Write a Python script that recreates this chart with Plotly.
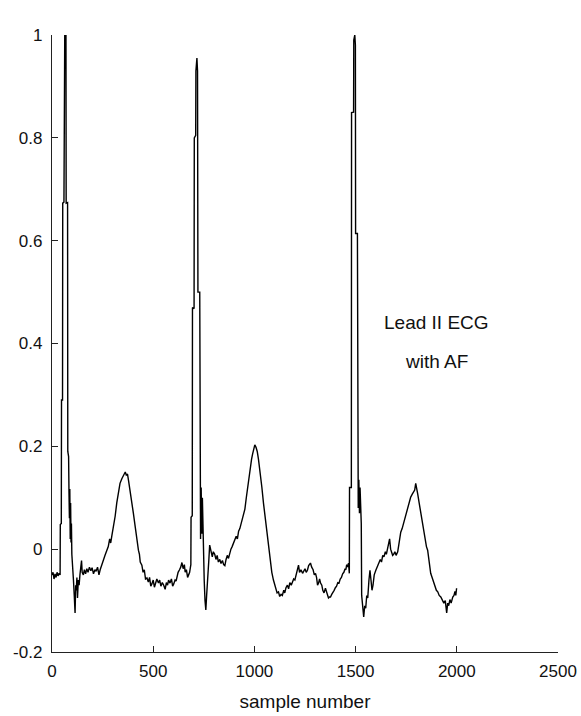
import plotly.graph_objects as go

# ---- data (sample number, amplitude) ----
sample_x = [
    0, 5, 10, 15, 20, 25, 30, 35, 40, 41, 46, 47, 52, 53, 59, 60, 63, 66, 69, 70, 77, 78, 82, 84, 86, 88, 90, 92, 94, 96, 98,
    102, 106, 110, 114, 117, 120, 123, 126, 130, 134, 138, 142, 146, 149, 155, 160, 166, 172, 178, 185, 192, 198, 205, 212,
    218, 225, 232, 238,
    245, 255, 262, 271, 278, 285, 290, 296, 304, 312, 320, 328, 336, 345, 352, 358, 362, 367, 373, 378, 386, 394, 402, 411,
    418, 423, 427, 432, 436, 444, 450, 456, 462, 469, 476, 482, 488, 493, 500, 506, 512, 518, 526, 532, 538, 545, 552, 559,
    565, 571, 576, 583, 590, 596, 601, 608, 613, 617, 623, 630, 636, 642, 648, 654, 658, 664, 670, 675, 680, 684,
    686, 687, 693, 694, 702, 703, 710, 711, 716, 719, 721, 730, 731, 734, 737, 740, 743, 746, 748, 752, 756, 760, 764, 768,
    771, 775, 779, 783, 787, 792, 797, 804, 810, 816, 822, 829, 835, 842, 848, 854, 860, 866, 872, 878, 884, 890, 896, 903,
    910, 916, 922, 928, 935, 941, 947, 953, 960, 965, 969, 975, 980, 986, 991, 997, 1002, 1008, 1014, 1020, 1025, 1030,
    1037, 1045, 1052, 1058, 1064, 1071, 1079, 1086, 1094, 1100, 1106, 1112, 1119, 1125, 1132, 1138, 1145, 1150, 1156, 1163,
    1169, 1175, 1182, 1188, 1194, 1200, 1206, 1213, 1218, 1223, 1230, 1238, 1245, 1250, 1256, 1262, 1268, 1273, 1277, 1283,
    1290, 1296, 1302, 1307, 1312, 1317, 1322, 1327, 1333, 1338, 1344, 1351, 1357, 1362, 1366, 1371, 1376, 1382, 1388, 1394,
    1400, 1406, 1412, 1418, 1424, 1430, 1436, 1442, 1448, 1452, 1456, 1460, 1465, 1469,
    1470, 1479, 1480, 1490, 1491, 1496, 1499, 1500, 1509, 1510, 1513, 1516, 1519, 1522, 1525, 1528, 1530, 1535, 1540, 1545,
    1550, 1555, 1560, 1566, 1571, 1576, 1581, 1586, 1592, 1600, 1607, 1615, 1622, 1628, 1634, 1640, 1647, 1652, 1657, 1663,
    1668, 1673, 1678, 1683, 1688, 1694, 1700, 1708, 1714, 1718, 1723, 1730, 1738, 1745, 1751, 1757, 1764, 1772, 1780, 1787,
    1792, 1797, 1802, 1807, 1814, 1822, 1830, 1837, 1843, 1850, 1856, 1862, 1867, 1871, 1878, 1886, 1892, 1899, 1906, 1913,
    1921, 1928, 1936, 1943, 1950, 1955, 1960, 1966, 1972, 1980, 1986, 1991, 1995, 1999,
]
ecg_y = [
    -0.05, -0.045, -0.058, -0.048, -0.055, -0.045, -0.052, -0.047, -0.05, 0.048, 0.05, 0.29, 0.29, 0.673, 0.675, 0.98, 1.0,
    0.99, 1.0, 0.673, 0.674, 0.19, 0.18, 0.11, 0.06, 0.117, 0.02, 0.09, 0.013, 0.05, -0.01,
    -0.03, -0.06, -0.09, -0.124, -0.07, -0.08, -0.055, -0.095, -0.06, -0.07, -0.05, -0.04, -0.022, -0.045, -0.05, -0.04,
    -0.048, -0.038, -0.045, -0.035, -0.042, -0.036, -0.048, -0.04, -0.043, -0.035, -0.05, -0.04,
    -0.03, -0.02, -0.012, 0.0, 0.005, 0.02, 0.012, 0.027, 0.045, 0.064, 0.09, 0.114, 0.128, 0.137, 0.143, 0.146, 0.15,
    0.144, 0.146, 0.134, 0.115, 0.095, 0.07, 0.044, 0.02, 0.01, -0.002, -0.01, -0.025, -0.031, -0.045, -0.04, -0.058,
    -0.056, -0.064, -0.055, -0.072, -0.068, -0.06, -0.074, -0.065, -0.058, -0.066, -0.06, -0.072, -0.065, -0.07, -0.078,
    -0.065, -0.07, -0.06, -0.066, -0.058, -0.072, -0.068, -0.06, -0.062, -0.052, -0.045, -0.04, -0.035, -0.026, -0.038,
    -0.03, -0.045, -0.04, -0.055, -0.05, -0.045, -0.035,
    -0.03, 0.062, 0.065, 0.47, 0.468, 0.80, 0.805, 0.93, 0.955, 0.93, 0.5, 0.5, 0.13, 0.02, 0.12, 0.03, 0.1, 0.02, 0.0,
    -0.06, -0.1, -0.118, -0.09, -0.07, -0.053, -0.02, 0.008, 0.0, -0.002, -0.015, -0.005, -0.01, -0.02, -0.012, -0.025,
    -0.02, -0.028, -0.022, -0.03, -0.032, -0.02, -0.012, -0.018, -0.008, 0.0, 0.005, 0.01, 0.017, 0.025, 0.02, 0.035, 0.04,
    0.05, 0.06, 0.07, 0.078, 0.1, 0.115, 0.127, 0.15, 0.16, 0.175, 0.185, 0.195, 0.203, 0.198, 0.19, 0.175, 0.16, 0.147,
    0.12, 0.089, 0.065, 0.045, 0.024, 0.0, -0.027, -0.045, -0.06, -0.07, -0.078, -0.085, -0.083, -0.092, -0.088, -0.09,
    -0.08, -0.085, -0.075, -0.07, -0.077, -0.065, -0.07, -0.062, -0.058, -0.06, -0.05, -0.041, -0.031, -0.045, -0.04,
    -0.047, -0.042, -0.038, -0.045, -0.041, -0.032, -0.03, -0.027, -0.035, -0.04, -0.05, -0.047, -0.055, -0.07, -0.066,
    -0.058, -0.066, -0.07, -0.08, -0.085, -0.076, -0.085, -0.09, -0.095, -0.093, -0.093, -0.088, -0.085, -0.08, -0.075,
    -0.072, -0.065, -0.066, -0.058, -0.055, -0.048, -0.045, -0.038, -0.04, -0.03, -0.035, -0.027, -0.047,
    0.12, 0.12, 0.849, 0.85, 0.99, 1.0, 0.98, 0.614, 0.614, 0.13, 0.08, 0.135, 0.07, 0.12, 0.076, 0.05, -0.09, -0.115,
    -0.132, -0.11, -0.115, -0.09, -0.095, -0.06, -0.041, -0.06, -0.08, -0.07, -0.05, -0.041, -0.035, -0.027, -0.02,
    -0.025, -0.012, -0.015, -0.005, -0.01, -0.002, 0.01, 0.02, 0.0, -0.005, -0.012, -0.01, -0.005, -0.012, -0.005, 0.01,
    0.02, 0.033, 0.04, 0.052, 0.06, 0.07, 0.076, 0.09, 0.101, 0.107, 0.111, 0.115, 0.128, 0.112, 0.107, 0.09, 0.07, 0.05,
    0.037, 0.02, 0.005, -0.002, -0.025, -0.035, -0.047, -0.055, -0.066, -0.07, -0.08, -0.083, -0.09, -0.093, -0.1, -0.105,
    -0.1, -0.124, -0.105, -0.11, -0.098, -0.105, -0.093, -0.09, -0.082, -0.09, -0.076,
]

x_ticks = [0, 500, 1000, 1500, 2000, 2500]
y_ticks = [-0.2, 0, 0.2, 0.4, 0.6, 0.8, 1]
y_tick_labels = ["-0.2", "0", "0.2", "0.4", "0.6", "0.8", "1"]
x_title = "sample number"
note_lines = ["Lead II ECG", "with AF"]
note_x = 1900
note_y = [0.44, 0.365]

FONT = "Liberation Sans, Arial, sans-serif"

fig = go.Figure()
fig.add_trace(go.Scatter(
    x=sample_x, y=ecg_y, mode="lines",
    line=dict(color="black", width=1.4),
    hoverinfo="skip", showlegend=False,
))

for txt, yy in zip(note_lines, note_y):
    fig.add_annotation(x=note_x, y=yy, text=txt, showarrow=False,
                       font=dict(family=FONT, size=19, color="#111"),
                       xanchor="center", yanchor="middle")

axis_common = dict(
    showgrid=False, zeroline=False, showline=True, linecolor="#222", linewidth=1.2,
    ticks="inside", ticklen=6, tickcolor="#222", tickwidth=1.2,
    tickfont=dict(family=FONT, size=17, color="#111"),
    mirror=False, automargin=False,
)

fig.update_xaxes(range=[0, 2500], tickvals=x_ticks, ticktext=[str(v) for v in x_ticks],
                 ticklabelstandoff=3,
                 title=dict(text=x_title, font=dict(family=FONT, size=19, color="#111"), standoff=15),
                 **axis_common)
fig.update_yaxes(range=[-0.2, 1], tickvals=y_ticks, ticktext=y_tick_labels,
                 ticklabelstandoff=5, **axis_common)

fig.update_layout(
    width=581, height=716,
    margin=dict(l=52, r=23, t=35, b=64),
    paper_bgcolor="white", plot_bgcolor="white",
    font=dict(family=FONT, color="#111"),
)

fig.write_html(
    "out.html",
    config={"displayModeBar": False, "staticPlot": True},
    post_script="document.body.style.margin='0';document.body.style.overflow='hidden';",
)
